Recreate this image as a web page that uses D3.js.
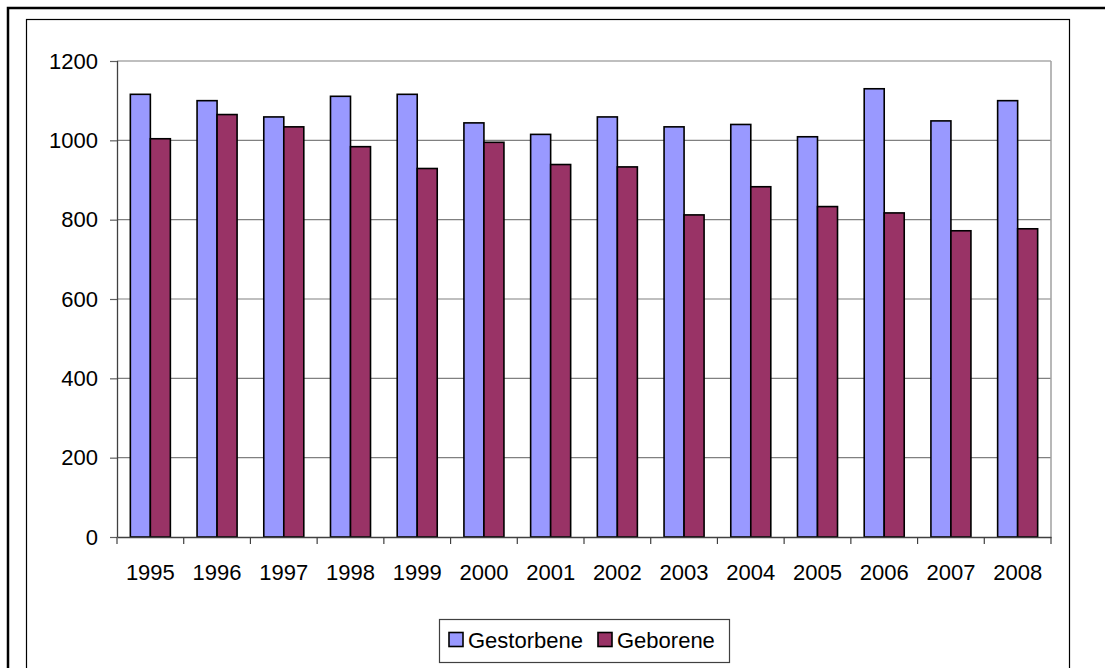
<!DOCTYPE html>
<html>
<head>
<meta charset="utf-8">
<script src="https://cdn.jsdelivr.net/npm/d3@7/dist/d3.min.js"></script>
<style>
  html, body { margin: 0; padding: 0; background: #fff; }
  svg { display: block; font-family: "Liberation Sans", Arial, sans-serif; }
</style>
</head>
<body>
<svg id="chart" width="1105" height="668"></svg>
<script>
// Jahre
const years = ["1995","1996","1997","1998","1999","2000","2001","2002","2003","2004","2005","2006","2007","2008"];
// Gestorbene je Jahr
const gestorbene = [1116,1100,1059,1111,1116,1044,1015,1059,1034,1040,1009,1130,1049,1100];
// Geborene je Jahr
const geborene = [1004,1065,1034,984,929,995,939,933,812,883,833,817,772,777];
const seriesNames = ["Gestorbene", "Geborene"];
const seriesColors = ["#9999FF", "#993366"];
const yTicks = [0, 200, 400, 600, 800, 1000, 1200];

const svg = d3.select("#chart");
const FONT = "Liberation Sans, Arial, sans-serif";

// outer frame (top and left edges) and inner chart frame
svg.append("path")
  .attr("d", "M8,668 V8 H1105")
  .attr("fill", "none").attr("stroke", "#000").attr("stroke-width", 2.5);
svg.append("rect")
  .attr("x", 26.5).attr("y", 19.5).attr("width", 1043).attr("height", 700)
  .attr("fill", "#fff").attr("stroke", "#000").attr("stroke-width", 1.2);

const plot = { left: 117, top: 61, right: 1051, bottom: 537 };

const x = d3.scaleBand().domain(years).range([plot.left, plot.right]).paddingInner(0).paddingOuter(0);
const y = d3.scaleLinear().domain([0, 1200]).range([plot.bottom, plot.top]);
const inner = d3.scaleBand().domain(seriesNames).range([0, x.bandwidth()]).paddingInner(0).paddingOuter(0.667);

// gridlines
svg.append("g").selectAll("line").data(yTicks.filter(d => d > 0)).join("line")
  .attr("x1", plot.left).attr("x2", plot.right)
  .attr("y1", d => y(d)).attr("y2", d => y(d))
  .attr("stroke", "#808080").attr("stroke-width", 1.2);

// plot border on the right
svg.append("line")
  .attr("x1", plot.right).attr("x2", plot.right).attr("y1", plot.top).attr("y2", plot.bottom)
  .attr("stroke", "#a0a0a0").attr("stroke-width", 1.5);

// bars
const groups = svg.append("g").selectAll("g").data(years).join("g")
  .attr("transform", d => `translate(${x(d)},0)`);
groups.selectAll("rect")
  .data((d, i) => [
    { s: seriesNames[0], v: gestorbene[i], c: seriesColors[0] },
    { s: seriesNames[1], v: geborene[i], c: seriesColors[1] }
  ])
  .join("rect")
  .attr("x", d => inner(d.s))
  .attr("y", d => y(d.v))
  .attr("width", inner.bandwidth())
  .attr("height", d => y(0) - y(d.v))
  .attr("fill", d => d.c)
  .attr("stroke", "#000").attr("stroke-width", 1.6);

// y axis
const yAxis = svg.append("g").attr("transform", `translate(${plot.left},0)`)
  .call(d3.axisLeft(y).tickValues(yTicks).tickSize(7).tickPadding(12).tickFormat(d3.format("d")));
yAxis.select(".domain").attr("stroke", "#404040").attr("stroke-width", 1.3).attr("d", `M0.5,${plot.top}V${plot.bottom}`);
yAxis.selectAll(".tick line").attr("stroke", "#606060").attr("stroke-width", 1.2);
yAxis.selectAll("text").attr("font-size", 22).attr("fill", "#000").attr("font-family", FONT);

// x axis with ticks at category boundaries
const xAxis = svg.append("g").attr("transform", `translate(0,${plot.bottom})`)
  .call(d3.axisBottom(x).tickSize(0).tickPadding(27));
xAxis.select(".domain").attr("stroke", "#404040").attr("stroke-width", 1.3);
xAxis.selectAll("text").attr("font-size", 22).attr("fill", "#000").attr("font-family", FONT);
const bounds = years.map(d => x(d)).concat([x(years[years.length - 1]) + x.bandwidth()]);
svg.append("g").selectAll("line").data(bounds).join("line")
  .attr("x1", d => d).attr("x2", d => d)
  .attr("y1", plot.bottom).attr("y2", plot.bottom + 7)
  .attr("stroke", "#404040").attr("stroke-width", 1.2);

// legend
const legend = svg.append("g");
legend.append("rect")
  .attr("x", 439.5).attr("y", 619.5).attr("width", 290).attr("height", 43)
  .attr("fill", "#fff").attr("stroke", "#404040").attr("stroke-width", 1.2);
const legendItems = [
  { name: seriesNames[0], color: seriesColors[0], x: 449 },
  { name: seriesNames[1], color: seriesColors[1], x: 598 }
];
const li = legend.selectAll("g.item").data(legendItems).join("g").attr("class", "item")
  .attr("transform", d => `translate(${d.x},632.5)`);
li.append("rect").attr("width", 14).attr("height", 14)
  .attr("fill", d => d.color).attr("stroke", "#000").attr("stroke-width", 1.6);
li.append("text").attr("x", 19).attr("y", 15)
  .attr("font-size", 22).attr("font-family", FONT).attr("fill", "#000")
  .text(d => d.name);
</script>
</body>
</html>
